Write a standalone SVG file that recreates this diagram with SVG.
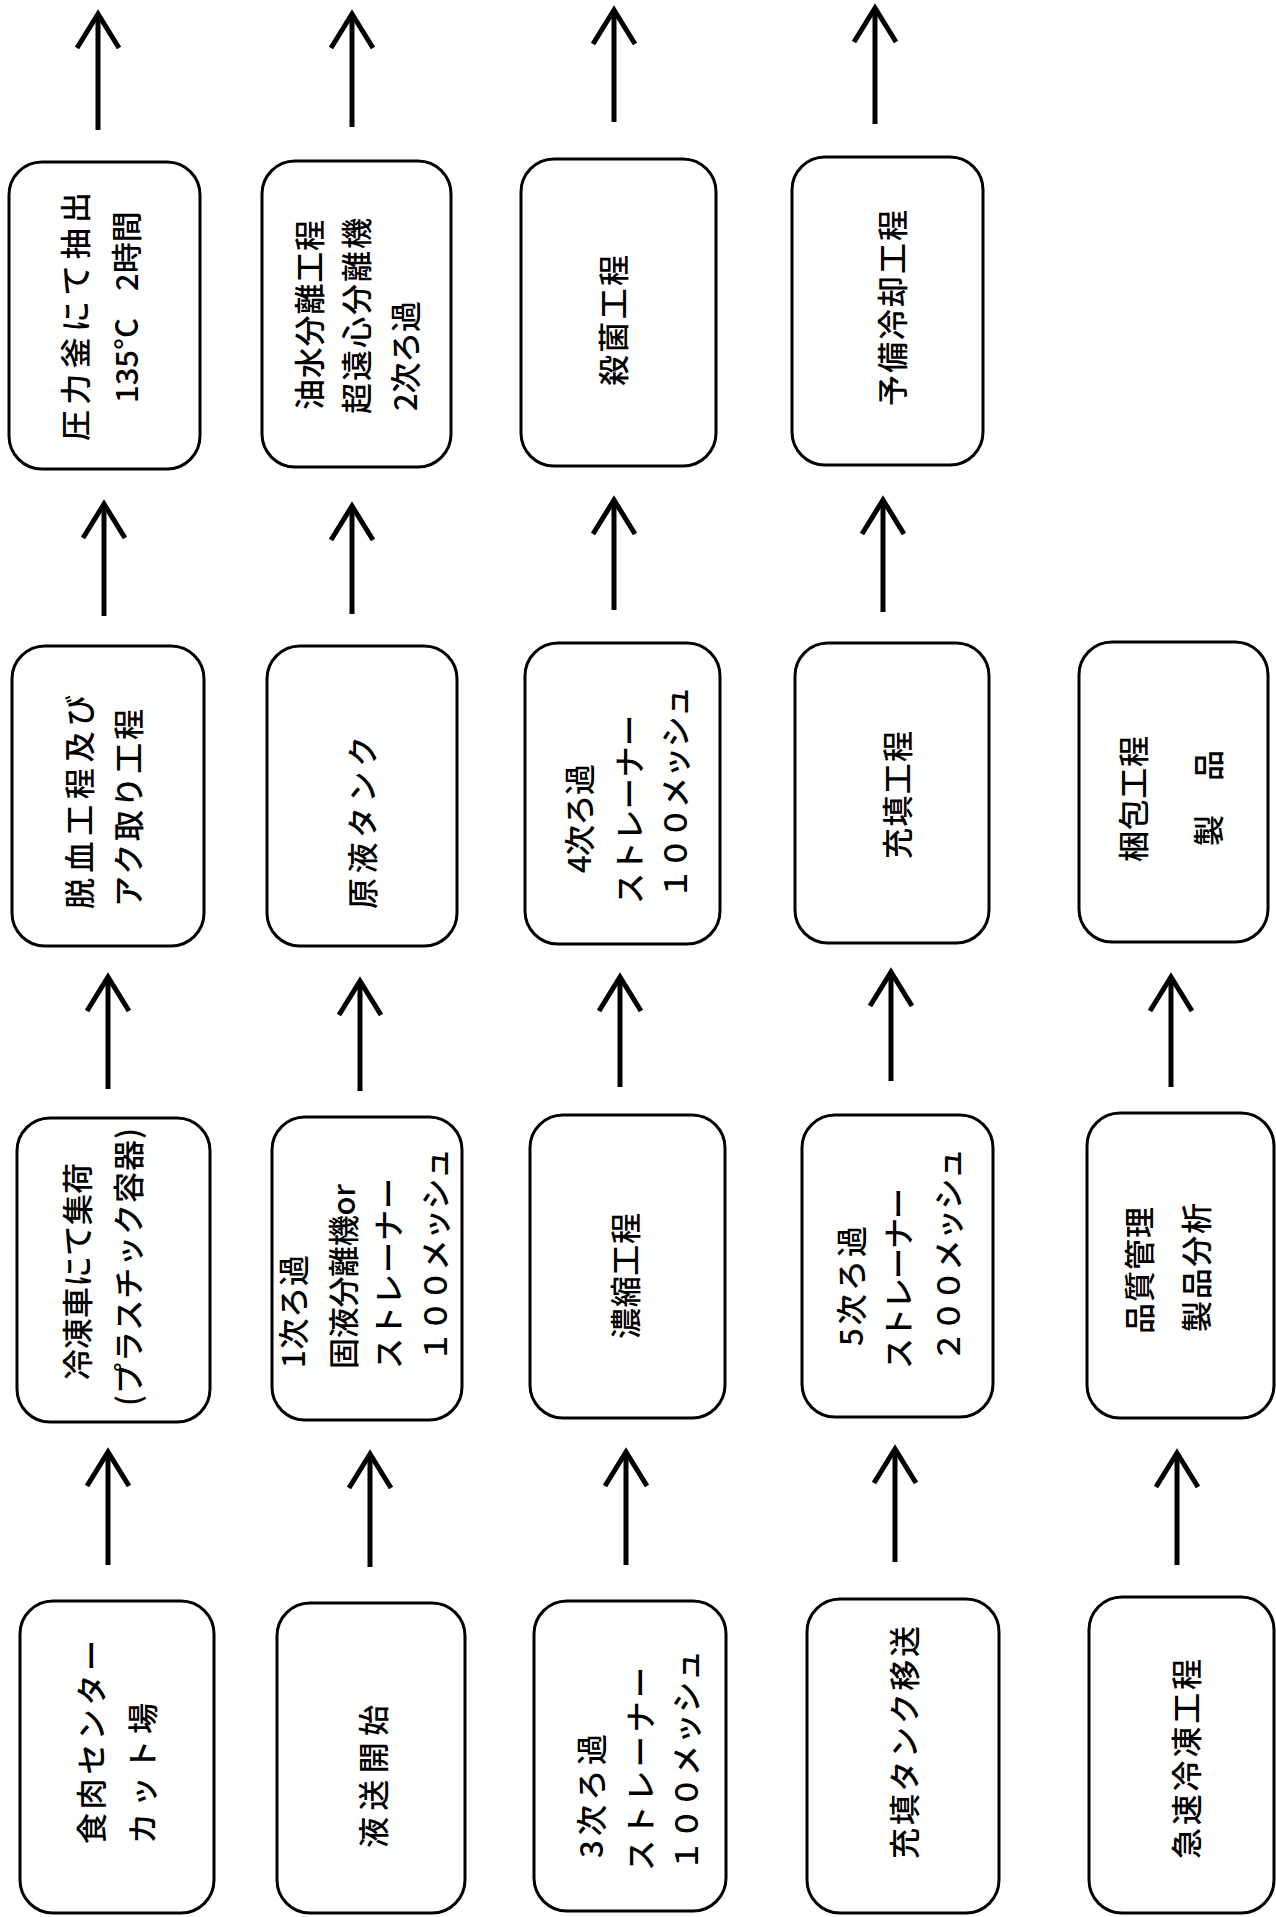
<svg xmlns="http://www.w3.org/2000/svg" width="1276" height="1917" viewBox="0 0 1276 1917">
<style>
.box{fill:#fff;stroke:#000;stroke-width:3}
.t{font-family:"Noto Sans CJK JP","Noto Sans CJK SC",sans-serif;font-size:31px;font-weight:500;fill:#000}
.ar{stroke:#000;stroke-width:5;fill:none;marker-end:url(#ah)}
</style>
<defs>
<marker id="ah" markerUnits="userSpaceOnUse" orient="auto" markerWidth="80" markerHeight="80" refX="0" refY="0" viewBox="-40 -40 80 80" overflow="visible">
<path d="M-34,-21 L0,0 L-34,21" fill="none" stroke="#000" stroke-width="5" stroke-linejoin="miter"/>
</marker>
</defs>
<rect x="0" y="0" width="1276" height="1917" fill="#fff"/>

<g id="connectors">
<line class="ar" x1="98" y1="130" x2="98" y2="14"/>
<line class="ar" x1="352" y1="127" x2="352" y2="14"/>
<line class="ar" x1="614" y1="122" x2="614" y2="10"/>
<line class="ar" x1="875" y1="124" x2="875" y2="8"/>
<line class="ar" x1="104" y1="616" x2="104" y2="504"/>
<line class="ar" x1="352" y1="614" x2="352" y2="506"/>
<line class="ar" x1="614" y1="610" x2="614" y2="500"/>
<line class="ar" x1="883" y1="612" x2="883" y2="500"/>
<line class="ar" x1="108" y1="1089" x2="108" y2="977"/>
<line class="ar" x1="360" y1="1091" x2="360" y2="981"/>
<line class="ar" x1="620" y1="1087" x2="620" y2="977"/>
<line class="ar" x1="891" y1="1081" x2="891" y2="972"/>
<line class="ar" x1="1171" y1="1087" x2="1171" y2="977"/>
<line class="ar" x1="108" y1="1565" x2="108" y2="1452"/>
<line class="ar" x1="370" y1="1567" x2="370" y2="1454"/>
<line class="ar" x1="626" y1="1565" x2="626" y2="1452"/>
<line class="ar" x1="895" y1="1562" x2="895" y2="1449"/>
<line class="ar" x1="1177" y1="1565" x2="1177" y2="1453"/>
</g>

<g id="n-atsuryoku">
<rect class="box" x="9" y="162" width="191" height="307" rx="33"/>
<text class="t" transform="translate(87,441) rotate(-90)" textLength="249" lengthAdjust="spacing">圧力釜にて抽出</text>
<text class="t" transform="translate(138,0) rotate(-90)"><tspan x="-403">135°C</tspan><tspan x="-291">2時間</tspan></text>
</g>
<g id="n-yusui">
<rect class="box" x="262" y="161" width="189" height="306" rx="33"/>
<text class="t" transform="translate(321,410) rotate(-90)" textLength="190" lengthAdjust="spacing">油水分離工程</text>
<text class="t" transform="translate(368,414) rotate(-90)" textLength="196" lengthAdjust="spacing">超遠心分離機</text>
<text class="t" transform="translate(417,411) rotate(-90)" textLength="110" lengthAdjust="spacing">2次ろ過</text>
</g>
<g id="n-sakkin">
<rect class="box" x="521" y="159" width="195" height="307" rx="33"/>
<text class="t" transform="translate(625,386) rotate(-90)" textLength="131" lengthAdjust="spacing">殺菌工程</text>
</g>
<g id="n-yobi">
<rect class="box" x="792" y="157" width="191" height="308" rx="33"/>
<text class="t" transform="translate(904,406) rotate(-90)" textLength="196" lengthAdjust="spacing">予備冷却工程</text>
</g>

<g id="n-dakketsu">
<rect class="box" x="12" y="646" width="192" height="300" rx="33"/>
<text class="t" transform="translate(91,909) rotate(-90)" textLength="214" lengthAdjust="spacing">脱血工程及び</text>
<text class="t" transform="translate(140,907) rotate(-90)" textLength="198" lengthAdjust="spacing">アク取り工程</text>
</g>
<g id="n-genneki">
<rect class="box" x="267" y="646" width="190" height="300" rx="33"/>
<text class="t" transform="translate(374,909) rotate(-90)" textLength="173" lengthAdjust="spacing">原液タンク</text>
</g>
<g id="n-4ji">
<rect class="box" x="525" y="643" width="195" height="301" rx="33"/>
<text class="t" transform="translate(591,873) rotate(-90)" textLength="109" lengthAdjust="spacing">4次ろ過</text>
<text class="t" transform="translate(641,904) rotate(-90)" textLength="189" lengthAdjust="spacing">ストレーナー</text>
<text class="t" transform="translate(687,899) rotate(-90)" textLength="213" lengthAdjust="spacing">１００メッシュ</text>
</g>
<g id="n-juten">
<rect class="box" x="795" y="643" width="194" height="300" rx="33"/>
<text class="t" transform="translate(909,859) rotate(-90)" textLength="128" lengthAdjust="spacing">充填工程</text>
</g>
<g id="n-konpo">
<rect class="box" x="1079" y="642" width="189" height="300" rx="33"/>
<text class="t" transform="translate(1145,862) rotate(-90)" textLength="126" lengthAdjust="spacing">梱包工程</text>
<text class="t" transform="translate(1220,846) rotate(-90)" textLength="96" lengthAdjust="spacing">製　品</text>
</g>

<g id="n-reitousha">
<rect class="box" x="17" y="1118" width="193" height="304" rx="33"/>
<text class="t" transform="translate(89,1380) rotate(-90)" textLength="217" lengthAdjust="spacing">冷凍車にて集荷</text>
<text class="t" transform="translate(140,1406) rotate(-90)" textLength="278" lengthAdjust="spacing">(プラスチック容器)</text>
</g>
<g id="n-1ji">
<rect class="box" x="272" y="1117" width="190" height="303" rx="33"/>
<text class="t" transform="translate(305,1368) rotate(-90)" textLength="113" lengthAdjust="spacing">1次ろ過</text>
<text class="t" transform="translate(355,1369) rotate(-90)" textLength="185" lengthAdjust="spacing">固液分離機or</text>
<text class="t" transform="translate(400,1369) rotate(-90)" textLength="191" lengthAdjust="spacing">ストレーナー</text>
<text class="t" transform="translate(447,1362) rotate(-90)" textLength="214" lengthAdjust="spacing">１００メッシュ</text>
</g>
<g id="n-noshuku">
<rect class="box" x="530" y="1115" width="195" height="303" rx="33"/>
<text class="t" transform="translate(637,1339) rotate(-90)" textLength="126" lengthAdjust="spacing">濃縮工程</text>
</g>
<g id="n-5ji">
<rect class="box" x="802" y="1115" width="191" height="302" rx="33"/>
<text class="t" transform="translate(863,1346) rotate(-90)" textLength="120" lengthAdjust="spacing">5次ろ過</text>
<text class="t" transform="translate(910,1369) rotate(-90)" textLength="181" lengthAdjust="spacing">ストレーナー</text>
<text class="t" transform="translate(960,1362) rotate(-90)" textLength="214" lengthAdjust="spacing">２００メッシュ</text>
</g>
<g id="n-hinshitsu">
<rect class="box" x="1087" y="1113" width="187" height="305" rx="33"/>
<text class="t" transform="translate(1151,1334) rotate(-90)" textLength="127" lengthAdjust="spacing">品質管理</text>
<text class="t" transform="translate(1208,1332) rotate(-90)" textLength="129" lengthAdjust="spacing">製品分析</text>
</g>

<g id="n-shokuniku">
<rect class="box" x="20" y="1601" width="194" height="312" rx="33"/>
<text class="t" transform="translate(103,1844) rotate(-90)" textLength="204" lengthAdjust="spacing">食肉センター</text>
<text class="t" transform="translate(154,1844) rotate(-90)" textLength="141" lengthAdjust="spacing">カット場</text>
</g>
<g id="n-ekisou">
<rect class="box" x="277" y="1603" width="188" height="310" rx="33"/>
<text class="t" transform="translate(385,1848) rotate(-90)" textLength="143" lengthAdjust="spacing">液送開始</text>
</g>
<g id="n-3ji">
<rect class="box" x="534" y="1601" width="192" height="310" rx="33"/>
<text class="t" transform="translate(603,1858) rotate(-90)" textLength="124" lengthAdjust="spacing">3次ろ過</text>
<text class="t" transform="translate(652,1871) rotate(-90)" textLength="204" lengthAdjust="spacing">ストレーナー</text>
<text class="t" transform="translate(698,1871) rotate(-90)" textLength="221" lengthAdjust="spacing">１００メッシュ</text>
</g>
<g id="n-jutentank">
<rect class="box" x="807" y="1599" width="192" height="314" rx="33"/>
<text class="t" transform="translate(916,1859) rotate(-90)" textLength="233" lengthAdjust="spacing">充填タンク移送</text>
</g>
<g id="n-kyusoku">
<rect class="box" x="1089" y="1597" width="185" height="316" rx="33"/>
<text class="t" transform="translate(1198,1859) rotate(-90)" textLength="200" lengthAdjust="spacing">急速冷凍工程</text>
</g>
</svg>
